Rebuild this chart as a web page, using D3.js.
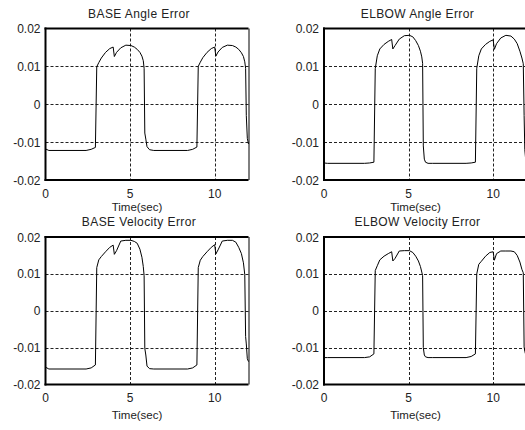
<!DOCTYPE html>
<html><head><meta charset="utf-8">
<script src="https://cdnjs.cloudflare.com/ajax/libs/d3/7.8.5/d3.min.js"></script>
<style>html,body{margin:0;padding:0;background:#fff;overflow:hidden}svg{display:block}text{font-family:"Liberation Sans",Arial,sans-serif;font-weight:400;fill:#222}</style>
</head><body><svg id="c" width="525" height="430"></svg>
<script>
const titles = ["BASE Angle Error","ELBOW Angle Error","BASE Velocity Error","ELBOW Velocity Error"];
const xLabel = "Time(sec)";
const xTicks = [0,5,10];
const yTicks = [-0.02,-0.01,0,0.01,0.02];
const yTickLabels = ["-0.02","-0.01","0","0.01","0.02"];
const xGrid = [5,10];
const yGrid = [-0.01,0,0.01];

const time = [0,0.2,2.4,2.7,2.95,3.03,3.15,3.3,3.55,3.8,4.0,4.07,4.2,4.45,4.75,5.05,5.25,5.42,5.58,5.7,5.78,5.83,5.87,5.93,6.0,6.15,6.4,
  8.4,8.7,8.95,9.03,9.15,9.3,9.55,9.8,10.0,10.07,10.2,10.45,10.75,11.05,11.25,11.42,11.58,11.7,11.78,11.83,11.87,11.93,12.0];

const baseAngle = [-0.0118,-0.0122,-0.0122,-0.0119,-0.0114,0.0099,0.0110,0.0122,0.0137,0.0147,0.0151,0.0126,0.0137,0.0149,0.0156,0.0155,0.0151,0.0145,0.0137,0.0127,0.0115,0.0095,-0.0076,-0.0092,-0.0112,-0.0120,-0.0122,
  -0.0122,-0.0119,-0.0113,0.0100,0.0111,0.0123,0.0137,0.0147,0.0151,0.0127,0.0138,0.0150,0.0156,0.0155,0.0151,0.0145,0.0136,0.0126,0.0112,0.0095,-0.0030,-0.0090,-0.0105];
const elbowAngle = [-0.0155,-0.0156,-0.0156,-0.0155,-0.0153,0.0094,0.0128,0.0146,0.0158,0.0166,0.0171,0.0146,0.0155,0.0172,0.0181,0.0182,0.0178,0.0168,0.0155,0.0140,0.0125,0.0108,-0.0110,-0.0145,-0.0153,-0.0156,-0.0156,
  -0.0156,-0.0155,-0.0153,0.0095,0.0128,0.0146,0.0158,0.0166,0.0170,0.0145,0.0160,0.0175,0.0182,0.0180,0.0172,0.0160,0.0140,0.0122,0.0107,-0.0030,-0.0120,-0.0150,-0.0155];
const baseVelocity = [-0.0153,-0.0158,-0.0158,-0.0155,-0.0147,0.0117,0.0138,0.0147,0.0160,0.0172,0.0178,0.0153,0.0163,0.0189,0.0191,0.0191,0.0188,0.0183,0.0167,0.0145,0.0120,0.0095,-0.0102,-0.0120,-0.0150,-0.0157,-0.0158,
  -0.0158,-0.0155,-0.0147,0.0117,0.0137,0.0147,0.0160,0.0172,0.0179,0.0154,0.0165,0.0189,0.0191,0.0191,0.0186,0.0172,0.0155,0.0130,0.0098,-0.0070,-0.0090,-0.0130,-0.0138];
const elbowVelocity = [-0.0127,-0.0127,-0.0127,-0.0125,-0.0117,0.0109,0.0122,0.0138,0.0148,0.0155,0.0160,0.0135,0.0142,0.0162,0.0163,0.0163,0.0158,0.0148,0.0135,0.0120,0.0105,0.0095,-0.0100,-0.0120,-0.0125,-0.0127,-0.0127,
  -0.0127,-0.0124,-0.0117,0.0100,0.0126,0.0134,0.0148,0.0158,0.0160,0.0137,0.0155,0.0162,0.0162,0.0162,0.0160,0.0150,0.0132,0.0112,0.0103,-0.0098,-0.0110,-0.0120,-0.0125];

const series = [baseAngle, elbowAngle, baseVelocity, elbowVelocity];
const panels = [
  {x:45.5, y:28.5, w:203, h:151.5, tick:18,   lab:31,   tit:-10.5},
  {x:324,  y:28.5, w:203, h:151.5, tick:18,   lab:31,   tit:-10.5},
  {x:45.5, y:237,  w:203, h:147.5, tick:17.5, lab:34.5, tit:-11},
  {x:324,  y:237,  w:203, h:147.5, tick:17.5, lab:34.5, tit:-11}
];

const svg = d3.select("#c");
panels.forEach((p, i) => {
  const xs = d3.scaleLinear().domain([0,12]).range([p.x, p.x+p.w]);
  const ys = d3.scaleLinear().domain([-0.02,0.02]).range([p.y+p.h, p.y]);
  const g = svg.append("g");
  g.selectAll(".gx").data(xGrid).join("line")
    .attr("x1", d=>Math.round(xs(d))+0.5).attr("x2", d=>Math.round(xs(d))+0.5)
    .attr("y1", p.y).attr("y2", p.y+p.h)
    .attr("stroke","#222").attr("stroke-width",1).attr("stroke-dasharray","3,2");
  g.selectAll(".gy").data(yGrid).join("line")
    .attr("y1", d=>Math.round(ys(d))+0.5).attr("y2", d=>Math.round(ys(d))+0.5)
    .attr("x1", p.x).attr("x2", p.x+p.w)
    .attr("stroke","#222").attr("stroke-width",1).attr("stroke-dasharray","3,2");
  const pts = time.map((t,k)=>[t, series[i][k]]);
  g.append("path").datum(pts)
    .attr("d", d3.line().x(d=>xs(d[0])).y(d=>ys(d[1])))
    .attr("fill","none").attr("stroke","#000").attr("stroke-width",1);
  g.append("line").attr("x1",p.x).attr("x2",p.x).attr("y1",p.y-1).attr("y2",p.y+p.h+1).attr("stroke","#000").attr("stroke-width",2);
  g.append("line").attr("x1",p.x-1).attr("x2",p.x+p.w).attr("y1",p.y).attr("y2",p.y).attr("stroke","#000").attr("stroke-width",2);
  g.append("line").attr("x1",p.x-1).attr("x2",p.x+p.w).attr("y1",p.y+p.h).attr("y2",p.y+p.h).attr("stroke","#000").attr("stroke-width",2);
  g.append("line").attr("x1",p.x+p.w+0.5).attr("x2",p.x+p.w+0.5).attr("y1",p.y).attr("y2",p.y+p.h).attr("stroke","#000").attr("stroke-width",1);
  g.selectAll(".yt").data(yTicks).join("text")
    .attr("x", p.x-5).attr("y", d=>ys(d)+4.5).attr("font-size",12)
    .attr("text-anchor","end").text((d,k)=>yTickLabels[k]);
  g.selectAll(".xt").data(xTicks).join("text")
    .attr("x", d=>xs(d)).attr("y", p.y+p.h+p.tick).attr("font-size",12)
    .attr("text-anchor","middle").text(d=>d);
  g.append("text").attr("x", p.x+p.w/2-10).attr("y", p.y+p.h+p.lab).attr("font-size",11.5)
    .attr("text-anchor","middle").text(xLabel);
  g.append("text").attr("x", p.x+p.w/2-8).attr("y", p.y+p.tit).attr("font-size",12)
    .attr("letter-spacing","0.4px").attr("text-anchor","middle").text(titles[i]);
});
</script></body></html>
